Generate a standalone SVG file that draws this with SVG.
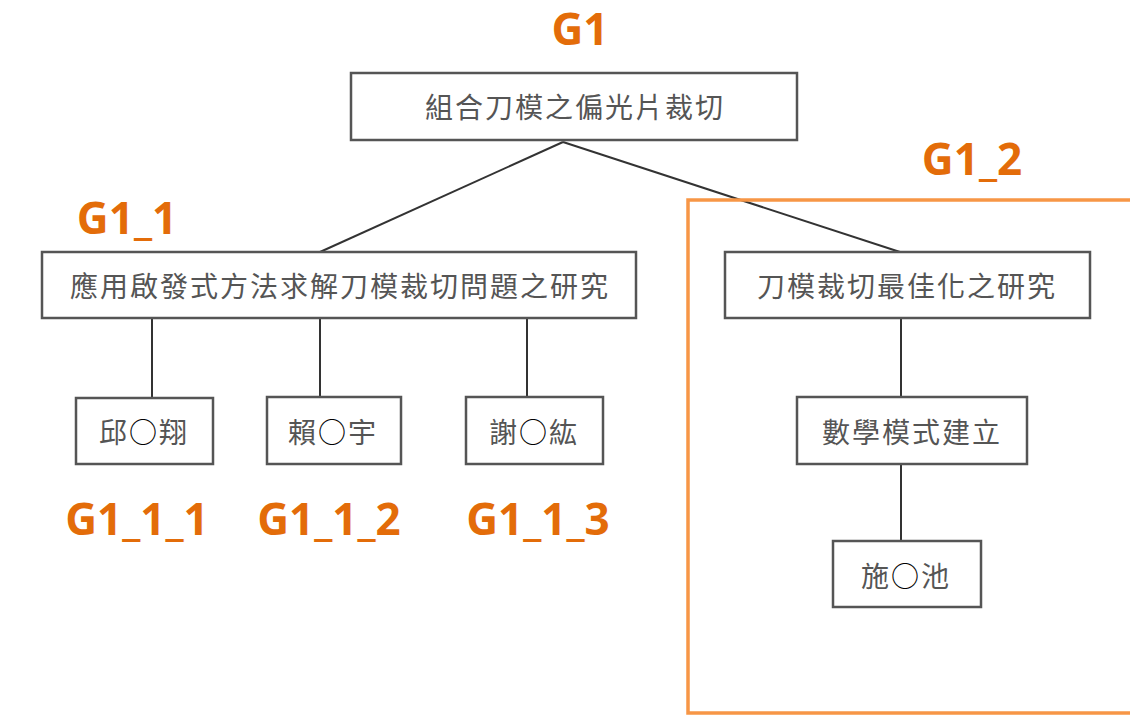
<svg xmlns="http://www.w3.org/2000/svg" width="1130" height="715" viewBox="0 0 1130 715">
<style>
.box{fill:#fff;stroke:#555;stroke-width:2.5}
.t{font-family:"Noto Sans CJK TC","Noto Sans CJK SC",sans-serif;font-size:28px;fill:#555;text-anchor:middle;letter-spacing:2px}
.o{fill:#000}
.lbl{font-family:"Open Sans","Noto Sans",sans-serif;font-weight:bold;font-size:44px;fill:#E36C09;text-anchor:middle}
.ln{stroke:#333;stroke-width:2;fill:none}
</style>
<rect x="0" y="0" width="1130" height="715" fill="#fff"/>
<g id="connectors">
<line class="ln" x1="563" y1="142" x2="320" y2="252"/>
<line class="ln" x1="563" y1="142" x2="900" y2="252"/>
<line class="ln" x1="152" y1="318" x2="152" y2="398"/>
<line class="ln" x1="320" y1="318" x2="320" y2="397"/>
<line class="ln" x1="527" y1="318" x2="527" y2="397"/>
<line class="ln" x1="901" y1="318" x2="901" y2="397"/>
<line class="ln" x1="901" y1="464" x2="901" y2="541"/>
</g>
<g id="G1_2_group">
<path d="M1132 200 L688 200 L688 713 L1132 713" fill="none" stroke="#F79646" stroke-width="3.5"/>
<text class="lbl" x="972" y="175">G1_2</text>
</g>
<g id="G1">
<text class="lbl" x="580" y="45">G1</text>
<rect class="box" x="351" y="73" width="446" height="67"/>
<text class="t" x="575" y="118">組合刀模之偏光片裁切</text>
</g>
<g id="G1_1">
<text class="lbl" x="127" y="234">G1_1</text>
<rect class="box" x="42" y="252" width="594" height="66"/>
<text class="t" x="340" y="297">應用啟發式方法求解刀模裁切問題之研究</text>
</g>
<g id="G1_1_1">
<rect class="box" x="76" y="398" width="137" height="66"/>
<text class="t" x="144" y="443">邱<tspan class="o">○</tspan>翔</text>
<text class="lbl" x="137" y="535">G1_1_1</text>
</g>
<g id="G1_1_2">
<rect class="box" x="267" y="397" width="134" height="67"/>
<text class="t" x="333" y="443">賴<tspan class="o">○</tspan>宇</text>
<text class="lbl" x="329" y="535">G1_1_2</text>
</g>
<g id="G1_1_3">
<rect class="box" x="466" y="397" width="137" height="67"/>
<text class="t" x="534" y="443">謝<tspan class="o">○</tspan>紘</text>
<text class="lbl" x="538" y="535">G1_1_3</text>
</g>
<g id="G1_2">
<rect class="box" x="725" y="252" width="365" height="66"/>
<text class="t" x="907" y="297">刀模裁切最佳化之研究</text>
</g>
<g id="G1_2_1">
<rect class="box" x="797" y="397" width="230" height="67"/>
<text class="t" x="912" y="443">數學模式建立</text>
</g>
<g id="G1_2_1_1">
<rect class="box" x="833" y="541" width="148" height="66"/>
<text class="t" x="906" y="587">施<tspan class="o">○</tspan>池</text>
</g>
</svg>
